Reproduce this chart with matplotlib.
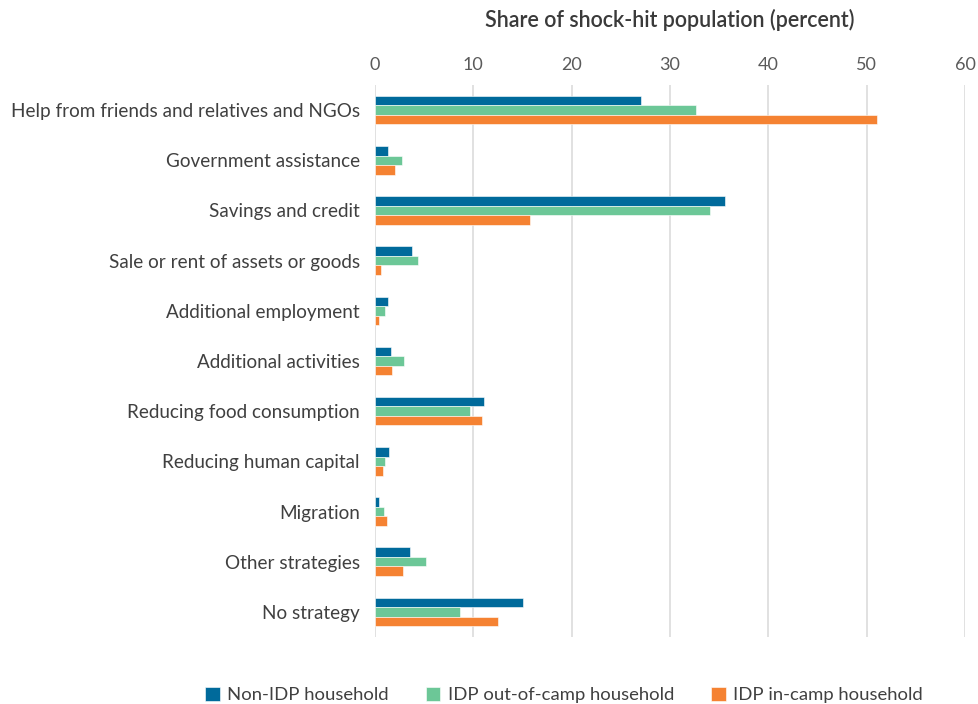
import matplotlib
matplotlib.use("Agg")
import matplotlib.pyplot as plt
import numpy as np

plt.rcParams['font.family'] = ['Lato', 'DejaVu Sans']

categories = [
    "Help from friends and relatives and NGOs",
    "Government assistance",
    "Savings and credit",
    "Sale or rent of assets or goods",
    "Additional employment",
    "Additional activities",
    "Reducing food consumption",
    "Reducing human capital",
    "Migration",
    "Other strategies",
    "No strategy",
]
non_idp = [27.0, 1.3, 35.6, 3.8, 1.3, 1.65, 11.1, 1.4, 0.4, 3.6, 15.1]
idp_out_camp = [32.6, 2.7, 34.1, 4.4, 1.0, 2.9, 9.7, 1.05, 0.95, 5.2, 8.6]
idp_in_camp = [51.0, 2.0, 15.8, 0.6, 0.45, 1.7, 10.9, 0.85, 1.2, 2.8, 12.5]
series_names = ["Non-IDP household", "IDP out-of-camp household", "IDP in-camp household"]
colors = ["#006a9b", "#6cc797", "#f58232"]
x_ticks = [0, 10, 20, 30, 40, 50, 60]

fig = plt.figure(figsize=(9.79, 7.04), dpi=100)
ax = fig.add_axes([375 / 979, 1 - 637 / 704, (965 - 375) / 979, (637 - 85) / 704])

y = np.arange(len(categories))
h = 0.19
for i, (vals, name, c) in enumerate(zip([non_idp, idp_out_camp, idp_in_camp], series_names, colors)):
    ax.barh(y + (i - 1) * h, vals, height=h, color=c, label=name,
            edgecolor="white", linewidth=0.4, zorder=3)

ax.set_xlim(0, 60)
ax.set_ylim(len(categories) - 0.5, -0.5)
ax.set_xticks(x_ticks)
ax.set_yticks(y)
ax.set_yticklabels(categories)
ax.xaxis.tick_top()
ax.tick_params(axis='x', length=0, pad=9, labelsize=13, labelcolor="#5a5a5a")
ax.tick_params(axis='y', length=0, pad=11, labelsize=13.6, labelcolor="#404040")
ax.grid(axis='x', color="#dcdcdc", linewidth=1.2, zorder=0)
for s in ax.spines.values():
    s.set_visible(False)

fig.text((375 + 965) / 2 / 979, 1 - 20 / 704, "Share of shock-hit population (percent)",
         ha="center", va="center", fontsize=15.5, color="#3a3a3a", fontweight="semibold")

fig.legend(loc="center", bbox_to_anchor=(0.576, 0.013), ncol=3, frameon=False,
           fontsize=13.3, handlelength=0.8, handleheight=0.8, handletextpad=0.4,
           columnspacing=2.0, labelcolor="#404040")

fig.savefig("out.png", dpi=100)
